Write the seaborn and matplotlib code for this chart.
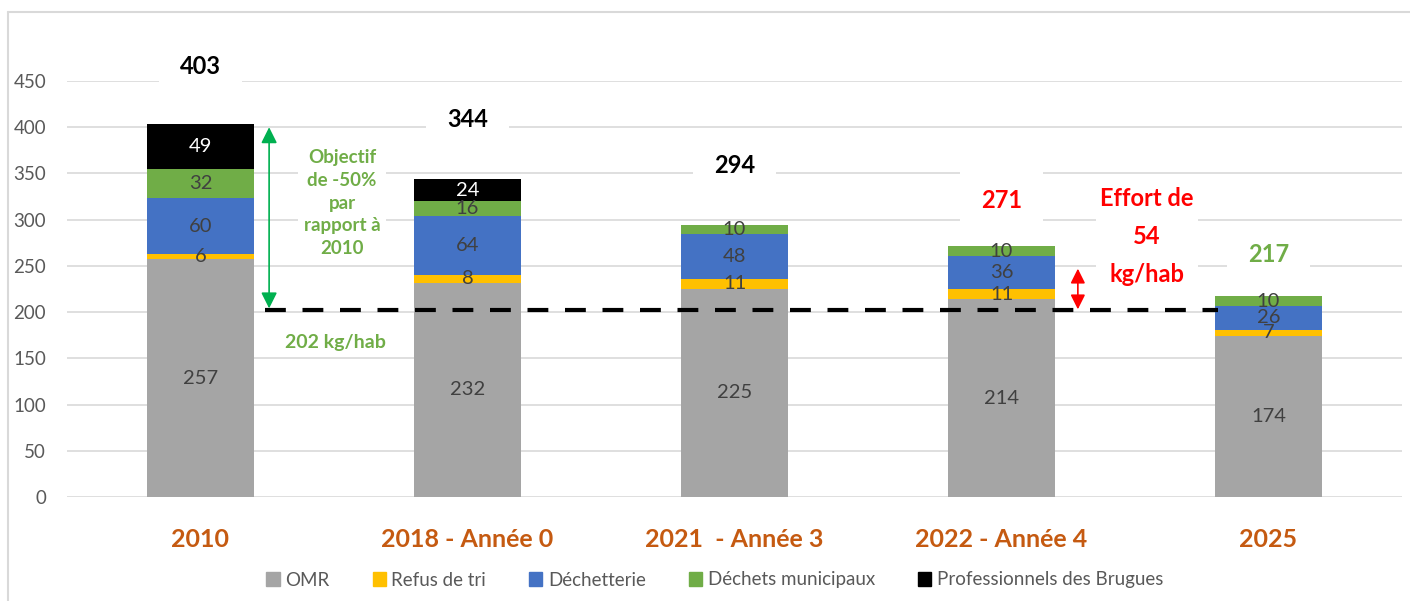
import numpy as np
import pandas as pd
import matplotlib
matplotlib.use('Agg')
import matplotlib.pyplot as plt
import seaborn as sns
from matplotlib.lines import Line2D
from matplotlib.patches import Patch

# data
categories = ['2010', '2018 - Année 0', '2021  - Année 3', '2022 - Année 4', '2025']
omr = [257, 232, 225, 214, 174]
refus = [6, 8, 11, 11, 7]
dechetterie = [60, 64, 48, 36, 26]
municipaux = [32, 16, 10, 10, 10]
pros = [49, 24, 0, 0, 0]
totals = [403, 344, 294, 271, 217]
objectif = 202

series_names = ['OMR', 'Refus de tri', 'Déchetterie', 'Déchets municipaux', 'Professionnels des Brugues']
colors = ['#A5A5A5', '#FFC000', '#4472C4', '#70AD47', '#000000']
total_colors = ['black', 'black', 'black', '#FF0000', '#70AD47']
label_offset = [63, 64, 65, 50, 45]

sns.set_theme(style='white')
plt.rcParams['font.family'] = ['Lato', 'DejaVu Sans']

df = pd.DataFrame({'cat': categories, 'OMR': omr, 'Refus de tri': refus,
                   'Déchetterie': dechetterie, 'Déchets municipaux': municipaux,
                   'Professionnels des Brugues': pros})

fig = plt.figure(figsize=(14.1, 6.01), dpi=100)
ax = fig.add_axes([67/1410, 1-497/601, 1335/1410, 416/601])

bottom = np.zeros(len(categories))
for name, col in zip(series_names, colors):
    sns.barplot(data=df, x='cat', y=name, color=col, width=0.4, bottom=bottom,
                ax=ax, saturation=1, linewidth=0, zorder=3)
    vals = df[name].values
    for i, v in enumerate(vals):
        if v > 0:
            ax.text(i, bottom[i] + v / 2, str(v), ha='center', va='center', fontsize=14.5,
                    color='white' if name.startswith('Prof') else '#404040', zorder=5)
    bottom = bottom + vals

for i, t in enumerate(totals):
    ax.text(i, t + label_offset[i], str(t), ha='center', va='center', fontsize=17,
            fontweight='bold', color=total_colors[i], zorder=6, clip_on=False,
            bbox=dict(boxstyle='square,pad=0.9', fc='white', ec='none'))

ax.set_ylim(0, 450)
ax.set_xlim(-0.5, 4.5)
ax.set_yticks(range(0, 451, 50))
ax.yaxis.grid(True, color='#D9D9D9', lw=1.2, zorder=0)
ax.set_axisbelow(True)
for s in ax.spines.values():
    s.set_visible(False)
ax.set_xlabel('')
ax.set_ylabel('')
ax.tick_params(axis='y', labelsize=13.5, labelcolor='#595959', length=0, pad=15)
ax.tick_params(axis='x', length=0, pad=22)
for lab in ax.get_xticklabels():
    lab.set_fontsize(18)
    lab.set_fontweight('bold')
    lab.set_color('#C55A11')

# objective line and annotations
ax.plot([0.24, 3.81], [objectif, objectif], color='black', lw=3, ls=(0, (5, 4)), zorder=4)
ax.annotate('', xy=(0.257, objectif + 2), xytext=(0.257, 400),
            arrowprops=dict(arrowstyle='<|-|>', color='#00B050', lw=1.2,
                            mutation_scale=24, shrinkA=0, shrinkB=0), zorder=6)
ax.text(0.53, 318, 'Objectif\nde -50%\npar\nrapport à\n2010', ha='center', va='center',
        fontsize=13.5, fontweight='bold', color='#70AD47', linespacing=1.4, zorder=6,
        bbox=dict(boxstyle='square,pad=0.3', fc='white', ec='none'))
ax.text(0.504, 167, '202 kg/hab', ha='center', va='center', fontsize=14,
        fontweight='bold', color='#70AD47', zorder=6)
ax.annotate('', xy=(3.286, objectif + 1), xytext=(3.286, 247),
            arrowprops=dict(arrowstyle='<|-|>', color='#FF0000', lw=1.2,
                            mutation_scale=22, shrinkA=0, shrinkB=0), zorder=6)
ax.text(3.545, 282, 'Effort de\n54\nkg/hab', ha='center', va='center', fontsize=17,
        fontweight='bold', color='#FF0000', linespacing=1.8, zorder=6,
        bbox=dict(boxstyle='square,pad=0.2', fc='white', ec='none'))

handles = [Patch(color=c, label=n) for n, c in zip(series_names, colors)]
leg = fig.legend(handles=handles, loc='center', bbox_to_anchor=(0.507, 1-580/601), ncol=5,
                 frameon=False, fontsize=13.5, handlelength=0.7, handleheight=0.7,
                 handletextpad=0.3, columnspacing=2.3)
for t in leg.get_texts():
    t.set_color('#595959')

# chart frame edges
fig.add_artist(Line2D([8/1410, 1], [1-12/601, 1-12/601], color='#D9D9D9', lw=1.5))
fig.add_artist(Line2D([8/1410, 8/1410], [0, 1-12/601], color='#D9D9D9', lw=1.5))

fig.savefig('out.png', dpi=100)
